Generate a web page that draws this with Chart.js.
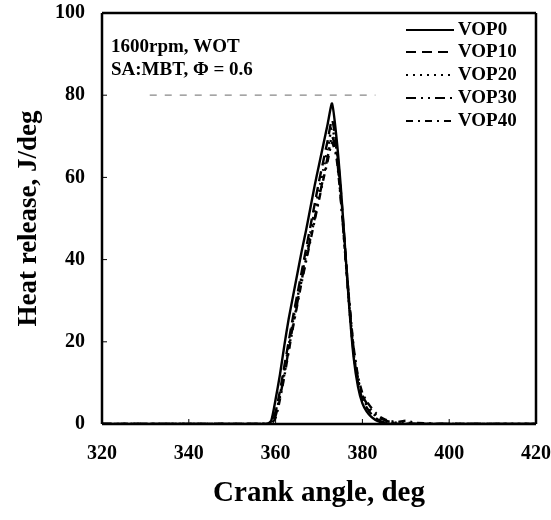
<!DOCTYPE html>
<html>
<head>
<meta charset="utf-8">
<script src="https://cdn.jsdelivr.net/npm/chart.js@4.4.1/dist/chart.umd.min.js"></script>
<style>
html,body{margin:0;padding:0;background:#fff;overflow:hidden;}
#wrap{width:551px;height:520px;position:relative;overflow:hidden;}
#c{position:absolute;left:0;top:-14px;}
</style>
</head>
<body>
<div id="wrap"><canvas id="c" width="569" height="534"></canvas></div>
<script>
// Crank angle (deg) sample points
const crank = [320, 340, 356, 358, 359, 360, 361, 362, 363, 364, 365, 366, 367, 368, 369, 370, 371, 372, 373, 374, 375, 376, 377, 378, 379, 380, 381, 382, 383, 384, 385, 386, 388, 390, 392, 400, 420];
// Heat release (J/deg)
const vop0  = [0, 0, 0, 0, 0.8, 6, 12, 19, 25.5, 31, 36.5, 42, 47, 52.5, 58, 63, 68, 73, 78, 70, 58, 43, 28, 16, 9, 5, 3, 1.8, 1, 0.5, 0.2, 0, 0, 0, 0, 0, 0];
const vop10 = [0, 0, 0, 0, 0.3, 3, 8, 14, 20, 26, 31.5, 37, 42.5, 48, 53.5, 59, 64, 69, 74, 68, 57, 43, 29, 17, 10, 6, 4, 2.5, 1.5, 0.8, 0.4, 0.2, 0, 0, 0, 0, 0];
const vop20 = [0, 0, 0, 0, 0.2, 2.5, 7, 13, 19, 25, 30.5, 36, 41, 46.5, 52, 57, 62, 67, 72, 67, 56, 42, 28, 17, 10.5, 6.5, 4.5, 3, 2, 1.2, 0.7, 0.4, 0.2, 0, 0, 0, 0];
const vop30 = [0, 0, 0, 0, 0.2, 2, 6.5, 12, 18, 24, 29.5, 35, 40, 45, 50, 55, 60, 65, 70, 66, 55, 42, 29, 18, 11, 7, 5, 3.5, 2.4, 1.5, 1, 0.6, 0.3, 0.5, 0, 0, 0];
const vop40 = [0, 0, 0, 0, 0.1, 1.5, 6, 11.5, 17.5, 23.5, 29, 34.5, 39.5, 44.5, 49.5, 54.5, 59.5, 64, 68.5, 65, 55, 42, 29.5, 18.5, 11.5, 7.5, 5.5, 4, 2.8, 1.8, 1.2, 0.8, 0.5, 0.8, 0.3, 0, 0];
const seriesNames = ['VOP0', 'VOP10', 'VOP20', 'VOP30', 'VOP40'];
const xTicks = [320, 340, 360, 380, 400, 420];
const yTicks = [0, 20, 40, 60, 80, 100];
// faint dashed scan line near 80 J/deg
const scanLineX = [331, 383];
const scanLineY = [80, 80];

const dashes = [[], [10, 6], [2, 5], [10, 5, 2, 5, 2, 5], [7, 5, 2, 5]];
const allSeries = [vop0, vop10, vop20, vop30, vop40];
const OFFSET_Y = 14; // canvas shifted up by this many px

const datasets = allSeries.map((vals, i) => ({
  label: seriesNames[i],
  data: crank.map((x, k) => ({x: x, y: vals[k]})),
  borderColor: '#000',
  borderWidth: 2.4,
  borderDash: dashes[i],
  pointRadius: 0,
  fill: false,
  tension: 0.2
}));
datasets.push({
  label: '_scan',
  data: scanLineX.map((x, k) => ({x: x, y: scanLineY[k]})),
  borderColor: '#888',
  borderWidth: 1.2,
  borderDash: [7, 8],
  pointRadius: 0,
  fill: false
});

const FONT = '"Liberation Serif", "DejaVu Serif", serif';

const framePlugin = {
  id: 'frame',
  afterDraw(chart) {
    const {ctx, scales} = chart;
    const L = scales.x.getPixelForValue(xTicks[0]);
    const R = scales.x.getPixelForValue(xTicks[xTicks.length - 1]);
    const T = scales.y.getPixelForValue(yTicks[yTicks.length - 1]);
    const B = scales.y.getPixelForValue(yTicks[0]);
    ctx.save();
    ctx.strokeStyle = '#000';
    ctx.lineWidth = 2.5;
    ctx.setLineDash([]);
    ctx.beginPath();
    ctx.moveTo(L, T); ctx.lineTo(R, T);
    ctx.moveTo(R, T); ctx.lineTo(R, B);
    ctx.moveTo(R, B); ctx.lineTo(L, B);
    ctx.moveTo(L, B); ctx.lineTo(L, T);
    ctx.stroke();
    ctx.lineWidth = 1;
    xTicks.forEach(v => {
      const px = scales.x.getPixelForValue(v);
      ctx.beginPath(); ctx.moveTo(px, B); ctx.lineTo(px, B - 5); ctx.stroke();
    });
    yTicks.forEach(v => {
      const py = scales.y.getPixelForValue(v);
      ctx.beginPath(); ctx.moveTo(L, py); ctx.lineTo(L + 5, py); ctx.stroke();
    });
    // annotation text
    ctx.fillStyle = '#000';
    ctx.font = 'bold 19px ' + FONT;
    ctx.textBaseline = 'middle';
    ctx.textAlign = 'left';
    ctx.fillText('1600rpm, WOT', 111, 47 + OFFSET_Y);
    ctx.fillText('SA:MBT, \u03A6 = 0.6', 111, 70 + OFFSET_Y);
    // legend
    const ys = [30, 52, 75, 98, 121];
    seriesNames.forEach((n, i) => {
      const y = ys[i] + OFFSET_Y;
      ctx.save();
      ctx.lineWidth = 2.2;
      ctx.setLineDash(dashes[i]);
      ctx.beginPath(); ctx.moveTo(406, y); ctx.lineTo(454, y); ctx.stroke();
      ctx.restore();
      ctx.fillText(n, 458, y);
    });
    ctx.restore();
  }
};

new Chart(document.getElementById('c'), {
  type: 'line',
  data: {datasets},
  options: {
    responsive: false,
    animation: false,
    layout: {padding: 0},
    plugins: {legend: {display: false}, tooltip: {enabled: false}},
    scales: {
      x: {
        type: 'linear', min: 320, max: 420,
        afterBuildTicks(s) { s.ticks = xTicks.map(v => ({value: v})); },
        afterFit(s) { s.height = 96; },
        grid: {display: false, drawTicks: false},
        border: {display: false},
        ticks: {color: '#000', padding: 18, maxRotation: 0,
          font: {family: FONT, size: 20, weight: 'bold'}},
        title: {display: true, text: 'Crank angle, deg', color: '#000', padding: {top: 0, bottom: 9},
          font: {family: FONT, size: 29, weight: 'bold'}}
      },
      y: {
        type: 'linear', min: 0, max: 100,
        afterBuildTicks(s) { s.ticks = yTicks.map(v => ({value: v})); },
        afterFit(s) { s.width = 102; },
        grid: {display: false, drawTicks: false},
        border: {display: false},
        ticks: {color: '#000', padding: 17,
          font: {family: FONT, size: 20, weight: 'bold', lineHeight: 1.0}},
        title: {display: true, text: 'Heat release, J/deg', color: '#000', padding: {top: 13, bottom: 0},
          font: {family: FONT, size: 27, weight: 'bold'}}
      }
    }
  },
  plugins: [framePlugin]
});
</script>
</body>
</html>
